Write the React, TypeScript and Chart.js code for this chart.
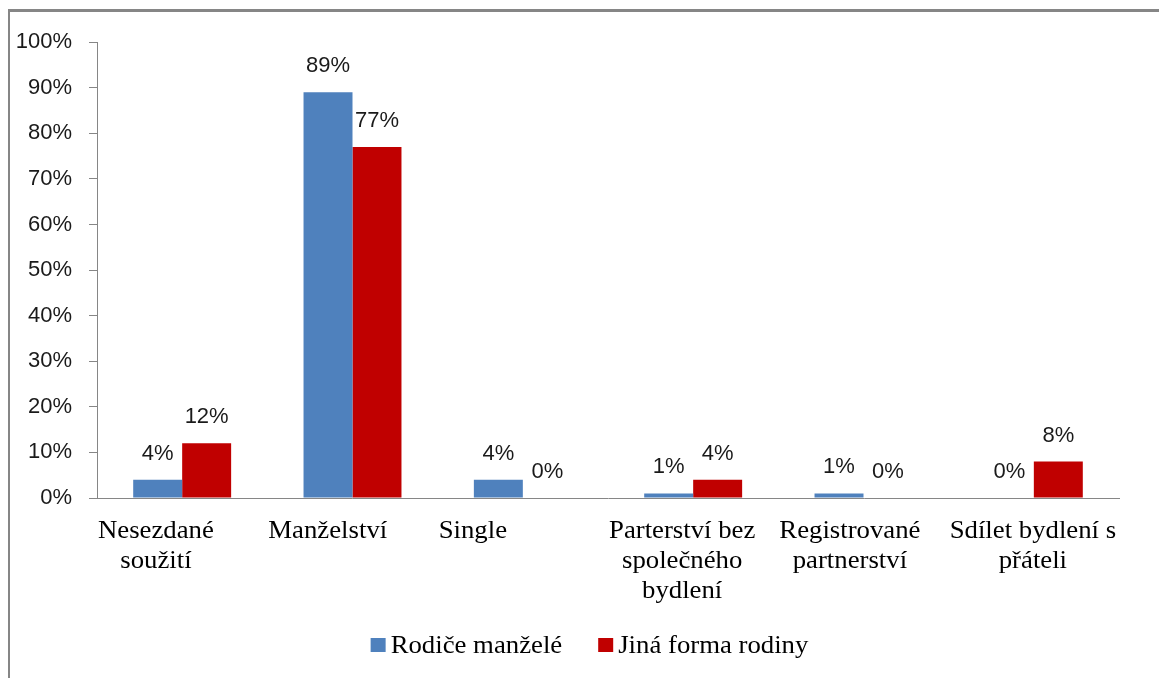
import React, { useEffect, useRef } from "react";
import { Chart, registerables } from "chart.js";

Chart.register(...registerables);

const categories: string[][] = [
  ["Nesezdané", "soužití"],
  ["Manželství"],
  ["Single"],
  ["Parterství bez", "společného", "bydlení"],
  ["Registrované", "partnerství"],
  ["Sdílet bydlení s", "přáteli"],
];
const seriesNames = ["Rodiče manželé", "Jiná forma rodiny"];
const rodiceManzele = [4, 89, 4, 1, 1, 0];
const jinaForma = [12, 77, 0, 4, 0, 8];
const seriesColors = ["#4F81BD", "#C00000"];

const SANS = "'Liberation Sans', Arial, sans-serif";
const SERIF = "'Liberation Serif', 'Times New Roman', serif";
const AXIS_GRAY = "#868686";
const STRETCH = 1.07;

const dataLabelPlugin = {
  id: "dataLabels",
  afterDatasetsDraw(chart: any) {
    const ctx = chart.ctx;
    ctx.save();
    ctx.font = `22px ${SANS}`;
    ctx.fillStyle = "#1a1a1a";
    ctx.textAlign = "center";
    ctx.textBaseline = "alphabetic";
    chart.data.datasets.forEach((ds: any, di: number) => {
      const meta = chart.getDatasetMeta(di);
      meta.data.forEach((bar: any, i: number) => {
        ctx.fillText(`${ds.data[i]}%`, bar.x, bar.y - 20);
      });
    });
    ctx.restore();
  },
};

// Category labels: each block starts at the left edge of its category,
// lines centred within the block (as in the reference).
const categoryLabelPlugin = {
  id: "categoryLabels",
  afterDraw(chart: any) {
    const ctx = chart.ctx;
    const xs = chart.scales.x;
    const n = chart.data.labels.length;
    const catW = (xs.right - xs.left) / n;
    ctx.save();
    ctx.font = `25px ${SERIF}`;
    ctx.fillStyle = "#000";
    ctx.textBaseline = "alphabetic";
    ctx.textAlign = "center";
    chart.data.labels.forEach((lines: string[], i: number) => {
      const blockW = Math.max(...lines.map((l) => ctx.measureText(l).width)) * STRETCH;
      const left = xs.getPixelForValue(i) - catW / 2 + 1;
      const cx = left + blockW / 2;
      lines.forEach((line, li) => {
        ctx.save();
        ctx.translate(cx, xs.top + 40 + li * 30);
        ctx.scale(STRETCH, 1);
        ctx.fillText(line, 0, 0);
        ctx.restore();
      });
    });
    ctx.restore();
  },
};

const legendPlugin = {
  id: "customLegend",
  afterDraw(chart: any) {
    const ctx = chart.ctx;
    ctx.save();
    ctx.font = `25px ${SERIF}`;
    ctx.textBaseline = "alphabetic";
    const box = 15;
    const gapText = 5;
    const gapItem = 36;
    const widths = seriesNames.map((n) => ctx.measureText(n).width * STRETCH);
    const total =
      widths.reduce((a, w) => a + box + gapText + w, 0) + gapItem * (seriesNames.length - 1);
    let x = chart.width / 2 + 5 - total / 2;
    const baseline = 641;
    seriesNames.forEach((name, i) => {
      ctx.fillStyle = seriesColors[i];
      ctx.fillRect(x, baseline - 15, box, 14);
      ctx.fillStyle = "#000";
      ctx.save();
      ctx.translate(x + box + gapText, baseline);
      ctx.scale(STRETCH, 1);
      ctx.fillText(name, 0, 0);
      ctx.restore();
      x += box + gapText + widths[i] + gapItem;
    });
    ctx.restore();
  },
};

export default function App() {
  const canvasRef = useRef<HTMLCanvasElement | null>(null);

  useEffect(() => {
    document.body.style.overflow = "hidden";
    const canvas = canvasRef.current;
    if (!canvas) return;
    const chart = new Chart(canvas, {
      type: "bar",
      data: {
        labels: categories,
        datasets: [
          {
            label: seriesNames[0],
            data: rodiceManzele,
            backgroundColor: seriesColors[0],
            categoryPercentage: 0.575,
            barPercentage: 1,
          },
          {
            label: seriesNames[1],
            data: jinaForma,
            backgroundColor: seriesColors[1],
            categoryPercentage: 0.575,
            barPercentage: 1,
          },
        ],
      },
      options: {
        responsive: false,
        animation: false,
        layout: { padding: { left: 0, top: 27, right: 40, bottom: 0 } },
        plugins: {
          legend: { display: false },
          tooltip: { enabled: false },
        },
        scales: {
          x: {
            grid: { display: true, drawOnChartArea: false, drawTicks: false },
            border: { display: true, color: AXIS_GRAY, width: 1 },
            ticks: { display: false },
            afterFit: (s: any) => {
              s.height = 180;
            },
          },
          y: {
            min: 0,
            max: 100,
            grid: {
              display: true,
              drawOnChartArea: false,
              drawTicks: true,
              tickLength: 8,
              color: AXIS_GRAY,
            },
            border: { display: true, color: AXIS_GRAY, width: 1 },
            ticks: {
              stepSize: 10,
              font: { family: SANS, size: 22 },
              color: "#1a1a1a",
              padding: 17,
              callback: (v: any) => `${v}%`,
            },
            afterFit: (s: any) => {
              s.width = 87;
            },
          },
        },
      },
      plugins: [dataLabelPlugin, categoryLabelPlugin, legendPlugin],
    });
    return () => chart.destroy();
  }, []);

  return (
    <div
      style={{
        position: "absolute",
        left: 8,
        top: 9,
        width: 1151,
        height: 669,
        boxSizing: "border-box",
        borderTop: `3px solid ${AXIS_GRAY}`,
        borderLeft: `2px solid ${AXIS_GRAY}`,
        background: "#fff",
      }}
    >
      <canvas ref={canvasRef} width={1149} height={666} style={{ display: "block" }} />
    </div>
  );
}
